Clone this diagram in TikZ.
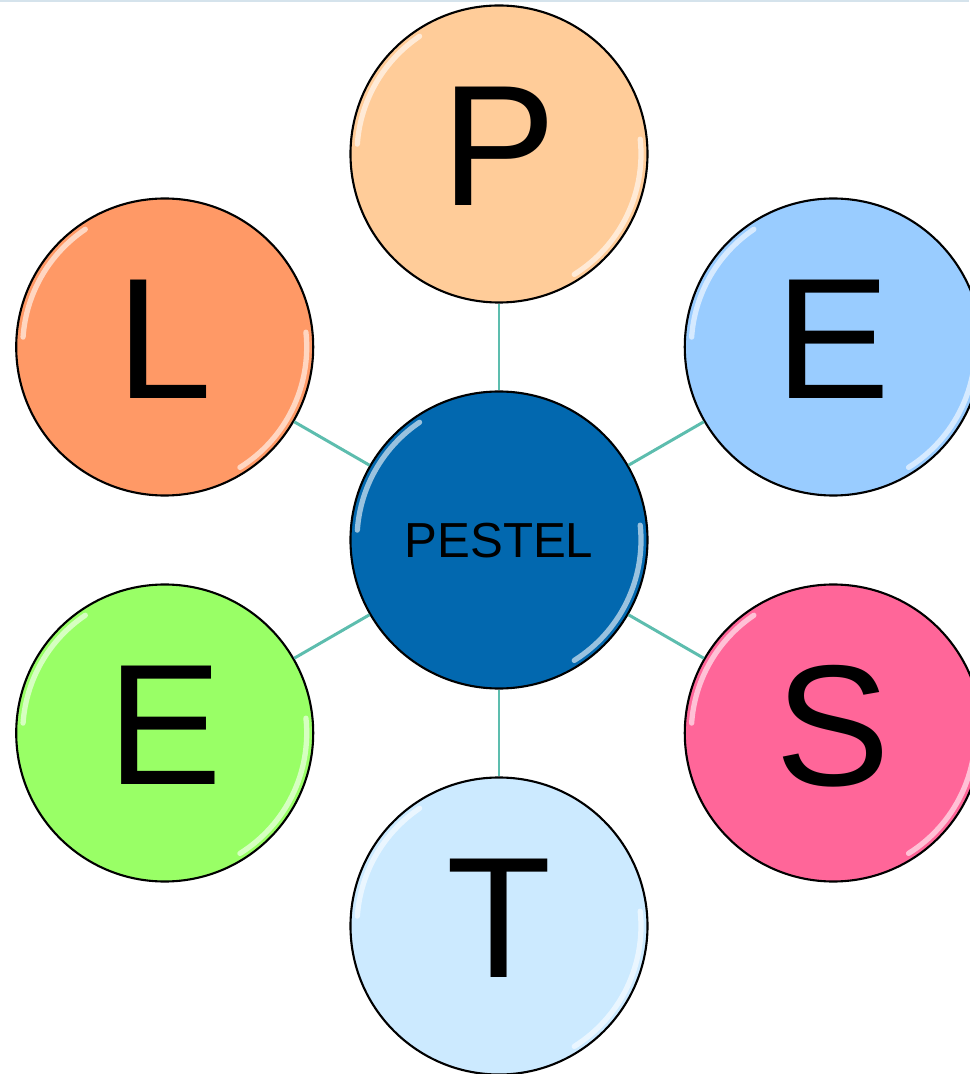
\documentclass[tikz,border=0pt]{standalone}
\usepackage{fontspec}
\setmainfont{Liberation Sans}
\definecolor{pstPeach}{HTML}{FFCC99}
\definecolor{pstSky}{HTML}{99CCFF}
\definecolor{pstCoral}{HTML}{FF9966}
\definecolor{pstLime}{HTML}{99FF66}
\definecolor{pstPink}{HTML}{FF6699}
\definecolor{pstIce}{HTML}{CCEAFF}
\definecolor{pstBlue}{HTML}{0268AF}
\definecolor{pstTeal}{HTML}{5DBDAE}
\definecolor{pstRule}{HTML}{D5E3EC}

\begin{document}
\begin{tikzpicture}[
    bubble/.style={circle, minimum size=2.97cm, inner sep=0pt, draw=black, line width=0.6pt,
      font=\fontsize{49}{49}\selectfont, text depth=0.16cm,
      path picture={
        \draw[white, opacity=0.6, line width=1.5pt, line cap=round]
          ([shift={(124:1.42cm)}]path picture bounding box.center)
          arc[start angle=124, end angle=176, radius=1.42cm];
        \draw[white, opacity=0.6, line width=1.5pt, line cap=round]
          ([shift={(6:1.42cm)}]path picture bounding box.center)
          arc[start angle=6, end angle=-58, radius=1.42cm];
      }},
    hubbox/.style={bubble, font=\fontsize{14}{14}\selectfont, text depth=0pt},
    link/.style={draw=pstTeal, line width=0.85pt}
  ]
    \useasboundingbox (-4.99,-5.34) rectangle (4.70,5.40);
    \draw[pstRule, line width=0.6pt] (-4.99,5.39) -- (4.70,5.39);

    \node[hubbox, fill=pstBlue] (hub) at (0,0) {PESTEL};

    \node[bubble, fill=pstPeach] (pol) at (90:3.86)  {P};
    \node[bubble, fill=pstSky]   (eco) at (30:3.86)  {E};
    \node[bubble, fill=pstPink]  (soc) at (-30:3.86) {S};
    \node[bubble, fill=pstIce]   (tec) at (-90:3.86) {T};
    \node[bubble, fill=pstLime]  (env) at (210:3.86) {E};
    \node[bubble, fill=pstCoral] (leg) at (150:3.86) {L};

    % spokes
    \foreach \n in {pol,eco,soc,tec,env,leg}
      \draw[link] (hub) -- (\n);
  \end{tikzpicture}
\end{document}
